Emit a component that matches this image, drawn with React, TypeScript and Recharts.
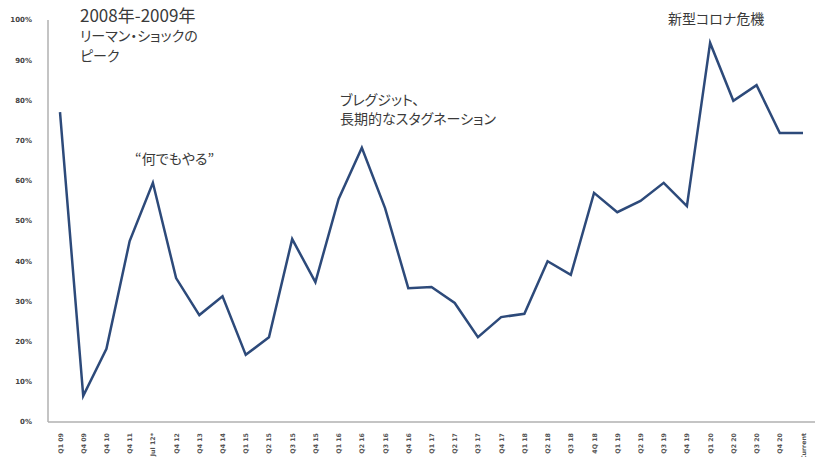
import { LineChart, Line, XAxis, YAxis } from 'recharts';

const periods = [
  'Q1 09', 'Q4 09', 'Q4 10', 'Q4 11', 'Jul 12*', 'Q4 12', 'Q4 13', 'Q4 14',
  'Q1 15', 'Q2 15', 'Q3 15', 'Q4 15', 'Q1 16', 'Q2 16', 'Q3 16', 'Q4 16',
  'Q1 17', 'Q2 17', 'Q3 17', 'Q4 17', 'Q1 18', 'Q2 18', 'Q3 18', '4Q 18',
  'Q1 19', 'Q2 19', 'Q3 19', 'Q4 19', 'Q1 20', 'Q2 20', 'Q3 20', 'Q4 20', 'Current',
];

const shares = [
  77.1, 6.5, 18.2, 45.0, 59.5, 35.8, 26.6, 31.3,
  16.7, 21.1, 45.5, 34.8, 55.5, 68.2, 53.2, 33.3,
  33.6, 29.6, 21.1, 26.1, 26.9, 40.0, 36.6, 57.0,
  52.2, 55.0, 59.5, 53.7, 94.3, 79.9, 83.8, 71.9, 71.9,
];

const yTicks = [0, 10, 20, 30, 40, 50, 60, 70, 80, 90, 100];

const data = periods.map((period, i) => ({ period, value: shares[i] }));

const jpFont = '"Noto Sans CJK JP", "Noto Sans", sans-serif';
const noteStyle: React.CSSProperties = {
  position: 'absolute',
  fontFamily: jpFont,
  fontFeatureSettings: '"palt"',
  color: '#3a3a3a',
  whiteSpace: 'nowrap',
};

const PeriodTick = ({ x, y, payload }: { x?: number; y?: number; payload?: { value: string } }) => (
  <text
    x={x}
    y={y}
    transform={`rotate(-90, ${x}, ${y})`}
    dx={-3}
    dy={2.5}
    textAnchor="end"
    fontSize={6.3}
    fontWeight="bold"
    fontFamily="DejaVu Sans, sans-serif"
    fill="#555"
  >
    {payload?.value}
  </text>
);

export default function App() {
  return (
    <div style={{ position: 'absolute', left: 0, top: 0, width: 817, height: 457, background: '#fff' }}>
      <LineChart width={817} height={457} data={data} margin={{ top: 20, right: 2, bottom: 0, left: 0 }}>
        <XAxis
          dataKey="period"
          interval={0}
          height={35}
          tickLine={false}
          axisLine={{ stroke: '#b0b0b0', strokeWidth: 1.5 }}
          padding={{ left: 12, right: 12 }}
          tick={<PeriodTick />}
        />
        <YAxis
          domain={[0, 100]}
          ticks={yTicks}
          width={48}
          tickLine={false}
          axisLine={{ stroke: '#b0b0b0', strokeWidth: 1.5 }}
          tickFormatter={(v: number) => `${v}%`}
          tick={{ fontSize: 7, fontWeight: 'bold', fill: '#444', fontFamily: 'DejaVu Sans, sans-serif' }}
          tickMargin={10}
        />
        <Line
          type="linear"
          dataKey="value"
          stroke="#2d4a7a"
          strokeWidth={2.5}
          dot={false}
          isAnimationActive={false}
        />
      </LineChart>

      <div style={{ ...noteStyle, left: 80, top: 5, fontSize: 17, lineHeight: '20px' }}>2008年-2009年</div>
      <div style={{ ...noteStyle, left: 80, top: 25, fontSize: 14, lineHeight: '20px' }}>
        リーマン・ショックの
        <br />
        ピーク
      </div>
      <div style={{ ...noteStyle, left: 135, top: 148, fontSize: 14, lineHeight: '20px' }}>“何でもやる”</div>
      <div style={{ ...noteStyle, left: 340, top: 90, fontSize: 14, lineHeight: '19px' }}>
        ブレグジット、
        <br />
        長期的なスタグネーション
      </div>
      <div style={{ ...noteStyle, left: 668, top: 8, fontSize: 14, lineHeight: '20px' }}>新型コロナ危機</div>
    </div>
  );
}
